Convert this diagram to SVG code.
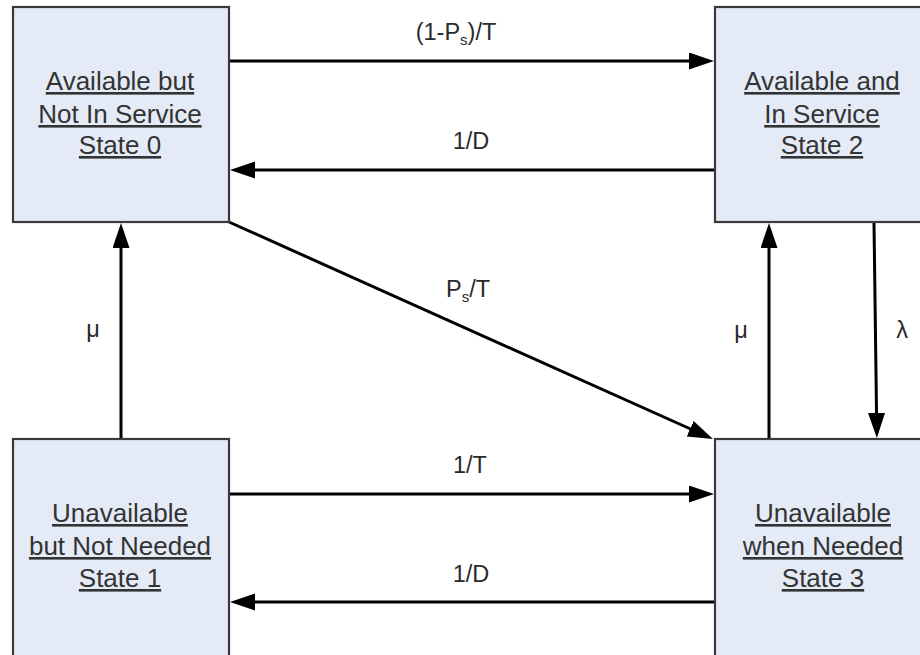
<svg xmlns="http://www.w3.org/2000/svg" width="920" height="655" viewBox="0 0 920 655">
  <style>
    .box { fill: #e4ebf6; stroke: #3a3a3a; stroke-width: 2.2; }
    .node-text { font-family: "Liberation Sans", Arial, sans-serif; font-size: 26px; fill: #333; text-anchor: middle; text-decoration: underline; }
    .edge { stroke: #000; stroke-width: 3; fill: none; marker-end: url(#arrow); }
    .label { font-family: "Liberation Sans", Arial, sans-serif; font-size: 23.5px; fill: #2a2a2a; text-anchor: middle; }
    .sub { font-size: 15px; }
  </style>
  <defs>
    <marker id="arrow" markerUnits="userSpaceOnUse" markerWidth="26" markerHeight="18" refX="20" refY="8.5" orient="auto">
      <path d="M0,0 L25,8.5 L0,17 Z" fill="#000"/>
    </marker>
  </defs>
  <rect width="920" height="655" fill="#fff"/>

  <g id="connectors">
    <line class="edge" x1="230" y1="61" x2="709" y2="61"/>
    <line class="edge" x1="715" y1="170" x2="235" y2="170"/>
    <line class="edge" x1="229" y1="222" x2="708.4" y2="437"/>
    <line class="edge" x1="121" y1="439" x2="121" y2="228"/>
    <line class="edge" x1="769" y1="439" x2="769" y2="228"/>
    <line class="edge" x1="874" y1="223" x2="876.8" y2="433"/>
    <line class="edge" x1="230" y1="494" x2="709" y2="494"/>
    <line class="edge" x1="715" y1="602" x2="235" y2="602"/>
  </g>

  <g id="edge-labels">
    <text class="label" x="456" y="40">(1-P<tspan class="sub" dy="5">s</tspan><tspan dy="-5">)/T</tspan></text>
    <text class="label" x="471" y="149">1/D</text>
    <text class="label" x="468" y="297">P<tspan class="sub" dy="5">s</tspan><tspan dy="-5">/T</tspan></text>
    <text class="label" x="93" y="337">μ</text>
    <text class="label" x="741" y="338">μ</text>
    <text class="label" x="902" y="338">λ</text>
    <text class="label" x="470" y="473">1/T</text>
    <text class="label" x="471" y="582">1/D</text>
  </g>

  <g id="state0">
    <rect class="box" x="13" y="7" width="216" height="215"/>
    <text class="node-text" x="120" y="90">Available but</text>
    <text class="node-text" x="120" y="123">Not In Service</text>
    <text class="node-text" x="120" y="154">State 0</text>
  </g>

  <g id="state2">
    <rect class="box" x="715" y="7" width="220" height="215"/>
    <text class="node-text" x="822" y="90">Available and</text>
    <text class="node-text" x="822" y="123">In Service</text>
    <text class="node-text" x="822" y="154">State 2</text>
  </g>

  <g id="state1">
    <rect class="box" x="13" y="439" width="216" height="230"/>
    <text class="node-text" x="120" y="522">Unavailable</text>
    <text class="node-text" x="120" y="555">but Not Needed</text>
    <text class="node-text" x="120" y="587">State 1</text>
  </g>

  <g id="state3">
    <rect class="box" x="715" y="439" width="220" height="230"/>
    <text class="node-text" x="823" y="522">Unavailable</text>
    <text class="node-text" x="823" y="555">when Needed</text>
    <text class="node-text" x="823" y="587">State 3</text>
  </g>
</svg>
